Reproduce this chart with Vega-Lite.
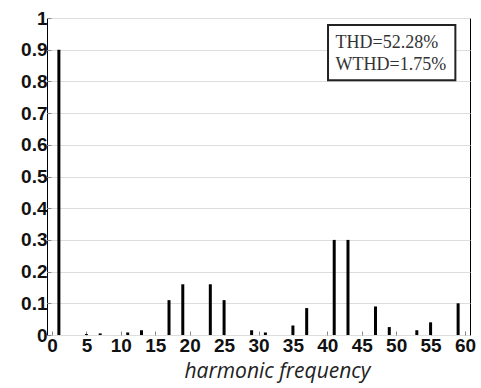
{
  "$schema": "https://vega.github.io/schema/vega-lite/v6.json",
  "autosize": "none",
  "width": 423,
  "height": 317,
  "padding": {"left": 47, "top": 18, "right": 11, "bottom": 53},
  "background": "white",
  "config": {
    "view": {"stroke": "#000", "strokeWidth": 1},
    "axis": {
      "labelFont": "Liberation Sans",
      "labelFontWeight": "bold",
      "labelFontSize": 19,
      "labelColor": "#111",
      "labelOverlap": false,
      "domain": false,
      "ticks": true,
      "tickSize": -4,
      "tickColor": "#888",
      "gridColor": "#ddd",
      "gridWidth": 1
    }
  },
  "datasets": {
    "bars": [
      {"x": 1, "y": 0.9},
      {"x": 5, "y": 0.003},
      {"x": 7, "y": 0.005},
      {"x": 11, "y": 0.008},
      {"x": 13, "y": 0.015},
      {"x": 17, "y": 0.11},
      {"x": 19, "y": 0.16},
      {"x": 23, "y": 0.16},
      {"x": 25, "y": 0.11},
      {"x": 29, "y": 0.015},
      {"x": 31, "y": 0.008},
      {"x": 35, "y": 0.03},
      {"x": 37, "y": 0.085},
      {"x": 41, "y": 0.3},
      {"x": 43, "y": 0.3},
      {"x": 47, "y": 0.09},
      {"x": 49, "y": 0.025},
      {"x": 53, "y": 0.015},
      {"x": 55, "y": 0.04},
      {"x": 59, "y": 0.1}
    ],
    "box": [{"x": 40.1, "x2": 58.6, "y": 0.804, "y2": 0.978}],
    "labels": [
      {"x": 41.2, "y": 0.921, "t": "THD=52.28%"},
      {"x": 41.2, "y": 0.852, "t": "WTHD=1.75%"}
    ]
  },
  "encoding": {
    "x": {
      "field": "x", "type": "quantitative",
      "scale": {"domain": [0, 60], "nice": false, "zero": false},
      "axis": {
        "values": [0, 5, 10, 15, 20, 25, 30, 35, 40, 45, 50, 55, 60],
        "format": "~g",
        "grid": false,
        "labelPadding": 5,
        "labelFlush": false,
        "title": "harmonic frequency",
        "titleFont": "Open Sans",
        "titleFontStyle": "italic",
        "titleFontWeight": "normal",
        "titleFontSize": 21,
        "titleColor": "#222",
        "titlePadding": 5,
        "titleX": 230
      }
    },
    "y": {
      "field": "y", "type": "quantitative",
      "scale": {"domain": [0, 1], "nice": false},
      "axis": {
        "values": [0, 0.1, 0.2, 0.3, 0.4, 0.5, 0.6, 0.7, 0.8, 0.9, 1],
        "format": "~g",
        "grid": true,
        "labelPadding": 4,
        "labelFlush": false,
        "title": null
      }
    }
  },
  "layer": [
    {
      "data": {"name": "bars"},
      "mark": {"type": "bar", "color": "#000", "size": 3}
    },
    {
      "data": {"name": "box"},
      "mark": {"type": "rect", "fill": "white", "stroke": "#222", "strokeWidth": 2},
      "encoding": {
        "x2": {"field": "x2"},
        "y2": {"field": "y2"}
      }
    },
    {
      "data": {"name": "labels"},
      "mark": {"type": "text", "align": "left", "baseline": "middle", "font": "Liberation Serif", "fontSize": 18, "color": "#333"},
      "encoding": {
        "text": {"field": "t"}
      }
    }
  ]
}
